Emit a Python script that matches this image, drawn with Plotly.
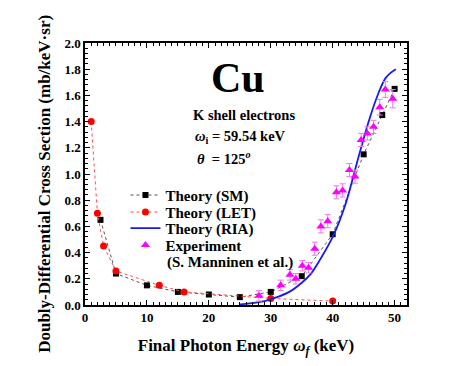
import plotly.graph_objects as go

# Theory (SM)
sm_x = [2.5, 5, 10, 15, 20, 25, 30, 35, 40, 45, 48, 50]
sm_y = [0.65, 0.24, 0.15, 0.10, 0.08, 0.06, 0.10, 0.22, 0.54, 1.15, 1.45, 1.65]

# Theory (LET)
let_x = [1, 2, 3, 5, 12, 16, 30, 40]
let_y = [1.40, 0.70, 0.45, 0.26, 0.15, 0.10, 0.05, 0.03]

# Theory (RIA)
ria_x = [25, 27, 29, 31, 33, 35, 36.5, 38, 40, 42, 44, 46, 47.5, 48.5, 49.3, 50.2]
ria_y = [0.005, 0.015, 0.03, 0.06, 0.10, 0.17, 0.24, 0.35, 0.52, 0.76, 1.10, 1.43, 1.63, 1.73, 1.77, 1.80]

# Experiment (S. Manninen et al.)
exp_x = [28.1, 31.6, 33.1, 34.05, 35.1, 36.1, 37.1, 38.1, 39.2, 40.6, 41.6, 42.7,
         43.6, 44.6, 45.6, 46.6, 47.6, 48.5, 49.7]
exp_y = [0.07, 0.15, 0.23, 0.20, 0.30, 0.285, 0.43, 0.60, 0.64, 0.86, 0.875, 1.03,
         0.98, 1.26, 1.31, 1.36, 1.51, 1.645, 1.575]
exp_err = [0.04, 0.04, 0.04, 0.04, 0.04, 0.04, 0.05, 0.05, 0.05, 0.05, 0.05, 0.05,
           0.05, 0.05, 0.05, 0.05, 0.06, 0.06, 0.07]

x_ticks = [0, 10, 20, 30, 40, 50]
y_ticks = [0.0, 0.2, 0.4, 0.6, 0.8, 1.0, 1.2, 1.4, 1.6, 1.8, 2.0]

FONT = "Liberation Serif"
BOLD = dict(family=FONT, color="black", weight="bold")

# the page body adds an 8px margin; size the figure to fit the window
OFF = 8
W, H = 473 - 2 * OFF, 366 - 2 * OFF
# desired plot area in window pixels
X0, X1, Y0, Y1 = 84.5, 406.7, 42.7, 304.7
ML, MT = X0 - OFF, Y0 - OFF
MR, MB = W - (X1 - OFF), H - (Y1 - OFF)
PW, PH = X1 - X0, Y1 - Y0


def px(x):
    return (x - X0) / PW


def py(y):
    return (Y1 - y) / PH


fig = go.Figure()
fig.add_trace(go.Scatter(
    x=sm_x, y=sm_y, mode="lines+markers", name="Theory (SM)", legend="legend",
    line=dict(color="#555555", width=1, dash="dot"),
    marker=dict(symbol="square", size=6, color="black")))
fig.add_trace(go.Scatter(
    x=let_x, y=let_y, mode="lines+markers", name="Theory (LET)", legend="legend2",
    line=dict(color="#ff5050", width=1, dash="dot"),
    marker=dict(symbol="circle", size=7, color="#ff0000")))
fig.add_trace(go.Scatter(
    x=ria_x, y=ria_y, mode="lines", name="Theory (RIA)", legend="legend3",
    line=dict(color="#1a1aee", width=1.8, shape="spline")))
fig.add_trace(go.Scatter(
    x=exp_x, y=exp_y, mode="markers", name="Experiment", legend="legend4",
    marker=dict(symbol="triangle-up", size=8, color="#ff00ff"),
    error_y=dict(type="data", array=exp_err, color="#ee77ee", thickness=1, width=3)))

ann = []
ann.append(dict(x=px(237.5), y=py(78), text="Cu", font=dict(size=42, **BOLD)))
ann.append(dict(x=px(244), y=py(115), text="K shell electrons", font=dict(size=14.5, **BOLD)))
ann.append(dict(x=px(193), y=py(137), xanchor="left", text="<i>ω</i><sub>i</sub> = 59.54 keV",
                font=dict(size=14.5, **BOLD)))
ann.append(dict(x=px(195), y=py(158), xanchor="left", text="<i>θ</i>  = 125<sup><i>o</i></sup>",
                font=dict(size=14.5, **BOLD)))
ann.append(dict(x=px(165), y=py(262), xanchor="left", text="(S. Manninen et al.)",
                font=dict(size=15, **BOLD)))
ann.append(dict(x=px(44), y=py(184), text="Doubly-Differential Cross Section (mb/keV·sr)",
                textangle=-90, font=dict(size=17, **BOLD)))
for a in ann:
    a.setdefault("xanchor", "center")
    a.update(xref="paper", yref="paper", yanchor="middle", showarrow=False)
    fig.add_annotation(**a)

axis_common = dict(showline=True, linecolor="black", linewidth=1.5, mirror="allticks",
                   ticks="inside", ticklen=5, tickwidth=1.2, tickcolor="black",
                   showgrid=False, zeroline=False, automargin=False,
                   tickfont=dict(size=13, **BOLD))

fig.update_xaxes(range=[0, 52], tickvals=x_ticks, ticktext=[str(v) for v in x_ticks],
                 minor=dict(ticks="inside", dtick=1, tick0=0, ticklen=3, tickcolor="black", tickwidth=1),
                 title=dict(text="Final Photon Energy <i>ω</i><sub><i>f</i></sub> (keV)",
                            font=dict(size=17, **BOLD), standoff=16),
                 **axis_common)
fig.update_yaxes(range=[0, 2.0], tickvals=y_ticks, ticktext=[f"{v:.1f}" for v in y_ticks],
                 minor=dict(ticks="inside", dtick=0.04, tick0=0, ticklen=3, tickcolor="black", tickwidth=1),
                 **axis_common)

leg_common = dict(xanchor="left", yanchor="middle", bgcolor="rgba(0,0,0,0)",
                  font=dict(size=15, **BOLD), itemwidth=30, x=px(125))
fig.update_layout(
    width=W, height=H,
    margin=dict(l=ML, r=MR, t=MT, b=MB, pad=0),
    paper_bgcolor="white", plot_bgcolor="white",
    font=dict(family=FONT, color="black"),
    showlegend=True,
    legend=dict(y=py(195), **leg_common),
    legend2=dict(y=py(212), **leg_common),
    legend3=dict(y=py(228), **leg_common),
    legend4=dict(y=py(245), **leg_common),
)

fig.write_html("out.html")
